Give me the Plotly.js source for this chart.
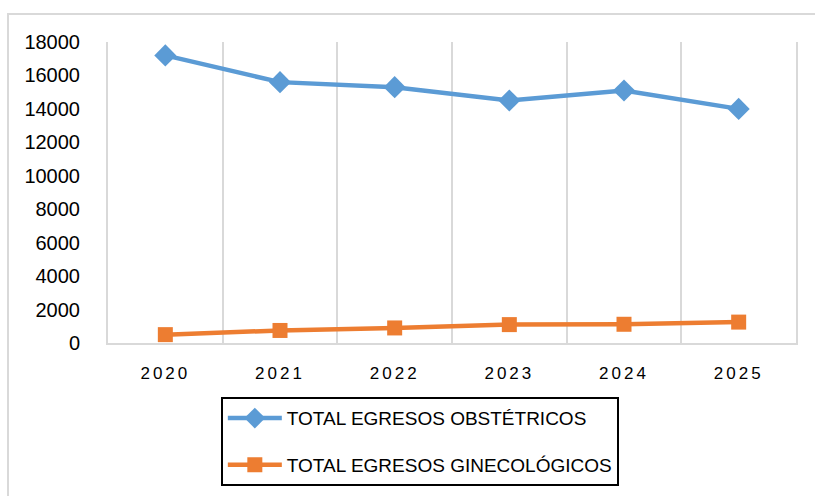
<!DOCTYPE html>
<html>
<head>
<meta charset="utf-8">
<script src="https://cdn.plot.ly/plotly-3.0.1.min.js"></script>
<style>
html,body{margin:0;padding:0;background:#fff;}
#wrap{position:relative;width:815px;height:496px;}
#chart{width:815px;height:496px;}
#frame{position:absolute;left:7px;top:13px;width:830px;height:500px;border-left:2px solid #d9d9d9;border-top:2px solid #d9d9d9;pointer-events:none;}
.xtick text{letter-spacing:3px;}
</style>
</head>
<body>
<div id="wrap">
<div id="chart"></div>
<div id="frame"></div>
</div>
<script>
const years = ["2020", "2021", "2022", "2023", "2024", "2025"];
const obstetricos = [17200, 15600, 15300, 14500, 15100, 14000];
const ginecologicos = [500, 750, 900, 1100, 1120, 1250];
const seriesNames = ["TOTAL EGRESOS OBSTÉTRICOS", "TOTAL EGRESOS GINECOLÓGICOS"];
const yTicks = [0, 2000, 4000, 6000, 8000, 10000, 12000, 14000, 16000, 18000];

const fontFam = "Liberation Sans, Arial, sans-serif";

const traces = [
  {
    x: years, y: obstetricos, name: seriesNames[0], type: "scatter", mode: "lines+markers",
    line: {color: "#5b9bd5", width: 4.5},
    marker: {symbol: "diamond", size: 17, color: "#5b9bd5"},
    legendgroup: "a"
  },
  {
    x: years, y: ginecologicos, name: seriesNames[1], type: "scatter", mode: "lines+markers",
    line: {color: "#ed7d31", width: 4.5},
    marker: {symbol: "square", size: 15, color: "#ed7d31"},
    legendgroup: "b"
  }
];

const layout = {
  width: 815, height: 496,
  margin: {l: 108, r: 19, t: 42, b: 152.5, pad: 0, autoexpand: false},
  paper_bgcolor: "#fff", plot_bgcolor: "#fff",
  font: {family: fontFam, color: "#000"},
  showlegend: true,
  xaxis: {
    type: "category", range: [-0.5, 5.5],
    tickson: "boundaries", showgrid: true, gridcolor: "#d9d9d9", gridwidth: 2,
    showline: true, linecolor: "#d9d9d9", linewidth: 2,
    ticks: "", tickfont: {size: 17, family: fontFam},
    ticklabelstandoff: 14,
    fixedrange: true
  },
  yaxis: {
    range: [0, 18000], tickvals: yTicks, ticktext: yTicks.map(String),
    showgrid: false, zeroline: false,
    showline: true, mirror: true, linecolor: "#d9d9d9", linewidth: 2,
    ticks: "",
    tickfont: {size: 20, family: fontFam},
    ticklabelstandoff: 22,
    fixedrange: true
  },
  legend: {
    x: 0.164, y: -0.18, xanchor: "left", yanchor: "top",
    orientation: "v", traceorder: "grouped", tracegroupgap: 19,
    bordercolor: "#000", borderwidth: 2, bgcolor: "#fff",
    font: {size: 19, family: fontFam, color: "#000"},
    itemwidth: 54
  }
};

Plotly.newPlot("chart", traces, layout, {displayModeBar: false, staticPlot: true});
</script>
</body>
</html>
